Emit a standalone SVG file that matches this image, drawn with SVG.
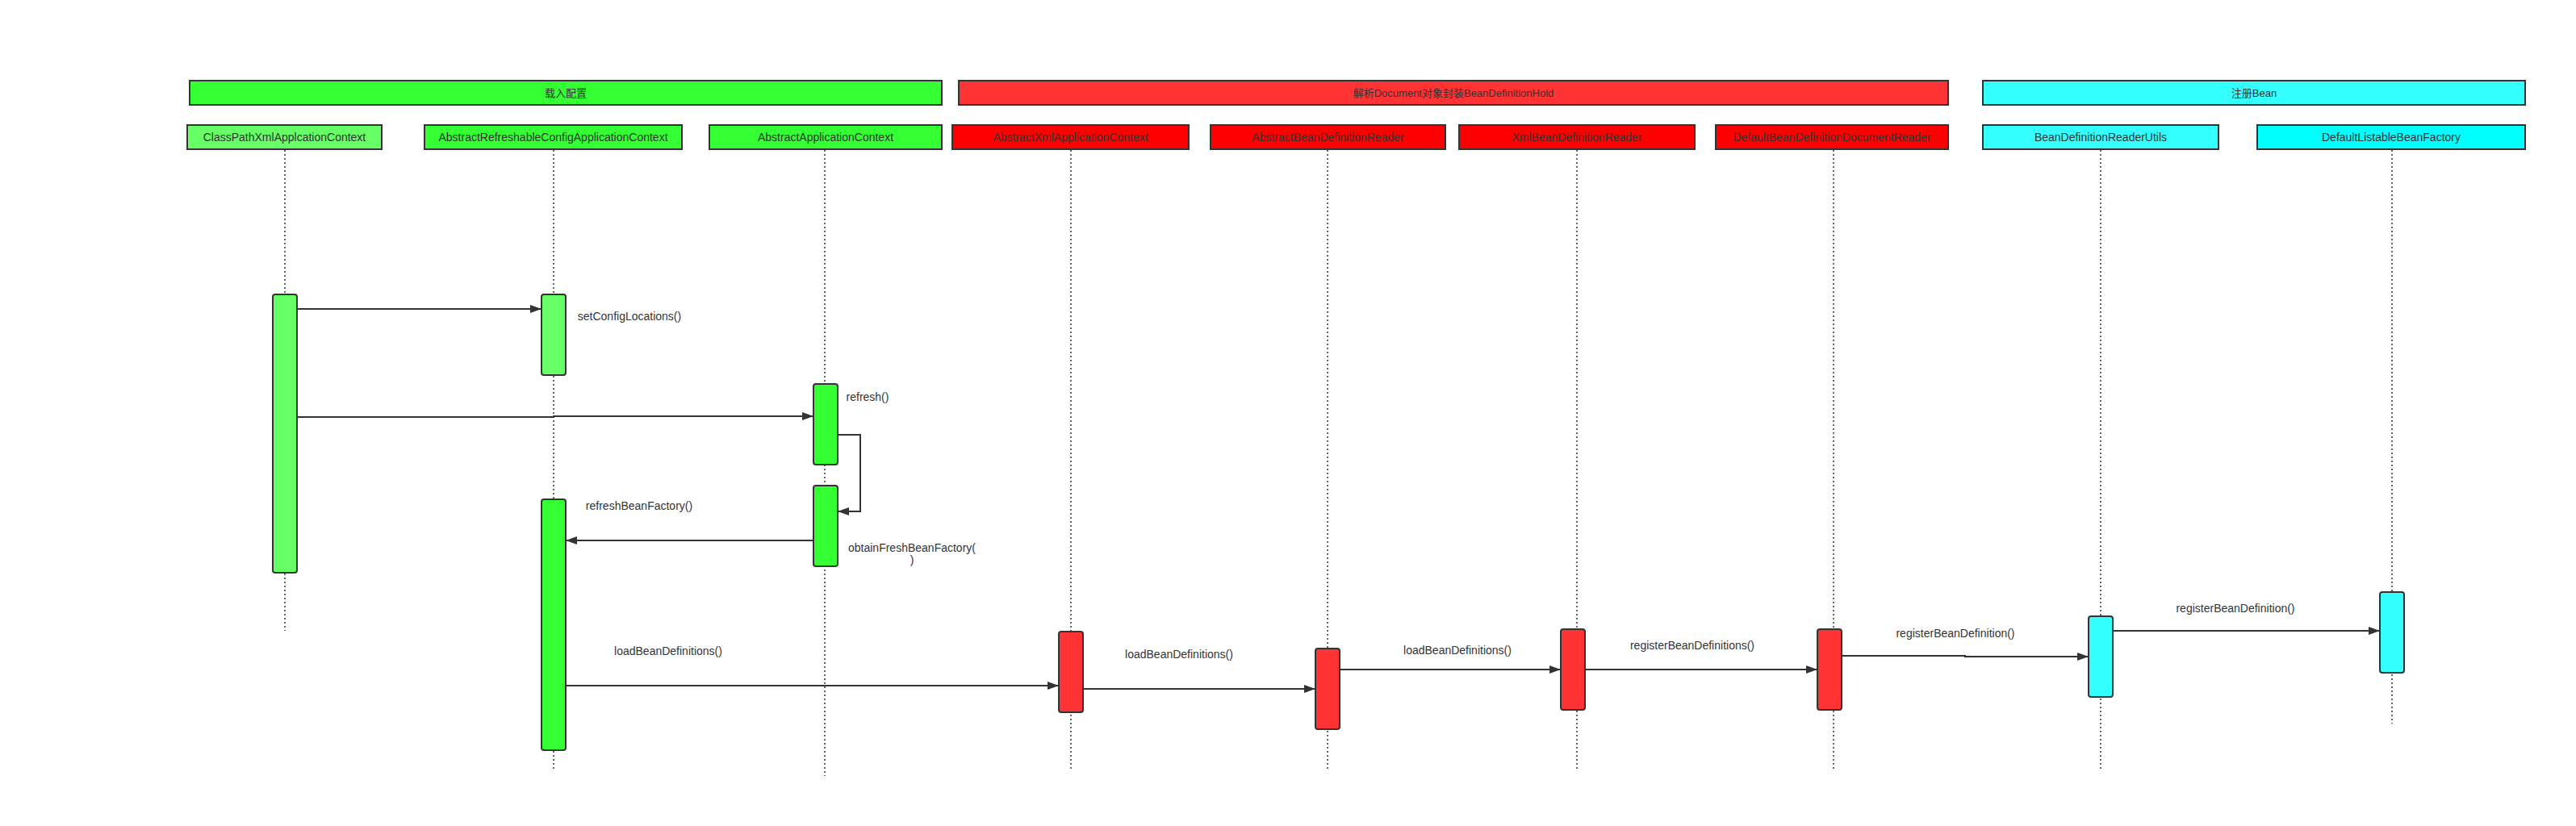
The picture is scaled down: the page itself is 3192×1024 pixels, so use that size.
<svg xmlns="http://www.w3.org/2000/svg" width="3192" height="1024" viewBox="0 0 3192 1024">
<style>
text{font-family:"Liberation Sans","Noto Sans CJK SC",sans-serif;fill:#333;}
.hdr{font-size:13px;text-anchor:middle;}
.pt{font-size:14px;text-anchor:middle;}
.lbl{font-size:14px;text-anchor:middle;}
.box{stroke:#333;stroke-width:2;}
.act{stroke:#333;stroke-width:2;}
.life{stroke:#333;stroke-width:1.5;stroke-dasharray:2 3;fill:none;}
.msg{stroke:#333;stroke-width:2;fill:none;marker-end:url(#arr);}
.g1{fill:#66FF66;}
.g2{fill:#33FF33;}
.r1{fill:#FF3333;}
.r2{fill:#FF0000;}
.c1{fill:#33FFFF;}
.c2{fill:#00FFFF;}
</style>
<defs>
<marker id="arr" viewBox="0 0 14 10" refX="14" refY="5" markerUnits="userSpaceOnUse" markerWidth="14" markerHeight="10" orient="auto">
<path d="M0,0 L14,5 L0,10 Z" fill="#333"/>
</marker>
</defs>
<rect width="3192" height="1024" fill="#fff"/>

<g id="frame-load">
<rect class="box g2" x="235" y="100" width="932" height="30"/>
<text class="hdr" x="701" y="120">载入配置</text>
</g>
<g id="frame-parse">
<rect class="box r1" x="1188" y="100" width="1226" height="30"/>
<text class="hdr" x="1801" y="120">解析Document对象封装BeanDefinitionHold</text>
</g>
<g id="frame-register">
<rect class="box c1" x="2457" y="100" width="672" height="30"/>
<text class="hdr" x="2793" y="120">注册Bean</text>
</g>

<g id="ClassPathXmlApplcationContext">
<line class="life" x1="353" y1="186" x2="353" y2="782"/>
<rect class="box g1" x="232" y="155" width="241" height="30"/>
<text class="pt" x="352.5" y="175">ClassPathXmlApplcationContext</text>
<rect class="act g1" x="338" y="365" width="30" height="345" rx="3"/>
</g>
<g id="AbstractRefreshableConfigApplicationContext">
<line class="life" x1="686" y1="186" x2="686" y2="956"/>
<rect class="box g2" x="526" y="155" width="319" height="30"/>
<text class="pt" x="685.5" y="175">AbstractRefreshableConfigApplicationContext</text>
<rect class="act g1" x="671" y="365" width="30" height="100" rx="3"/>
<rect class="act g2" x="671" y="619" width="30" height="311" rx="3"/>
</g>
<g id="AbstractApplicationContext">
<line class="life" x1="1022" y1="186" x2="1022" y2="962"/>
<rect class="box g2" x="879" y="155" width="288" height="30"/>
<text class="pt" x="1023" y="175">AbstractApplicationContext</text>
<rect class="act g2" x="1008" y="476" width="30" height="100" rx="3"/>
<rect class="act g2" x="1008" y="602" width="30" height="100" rx="3"/>
</g>
<g id="AbstractXmlApplicationContext">
<line class="life" x1="1327" y1="186" x2="1327" y2="956"/>
<rect class="box r2" x="1180" y="155" width="293" height="30"/>
<text class="pt" x="1326.5" y="175">AbstractXmlApplicationContext</text>
<rect class="act r1" x="1312" y="783" width="30" height="100" rx="3"/>
</g>
<g id="AbstractBeanDefinitionReader">
<line class="life" x1="1645" y1="186" x2="1645" y2="956"/>
<rect class="box r2" x="1500" y="155" width="291" height="30"/>
<text class="pt" x="1645.5" y="175">AbstractBeanDefinitionReader</text>
<rect class="act r1" x="1630" y="804" width="30" height="100" rx="3"/>
</g>
<g id="XmlBeanDefinitionReader">
<line class="life" x1="1954" y1="186" x2="1954" y2="956"/>
<rect class="box r2" x="1808" y="155" width="292" height="30"/>
<text class="pt" x="1954" y="175">XmlBeanDefinitionReader</text>
<rect class="act r1" x="1934" y="780" width="30" height="100" rx="3"/>
</g>
<g id="DefaultBeanDefinitionDocumentReader">
<line class="life" x1="2272" y1="186" x2="2272" y2="956"/>
<rect class="box r2" x="2126" y="155" width="288" height="30"/>
<text class="pt" x="2270" y="175">DefaultBeanDefinitionDocumentReader</text>
<rect class="act r1" x="2252" y="780" width="30" height="100" rx="3"/>
</g>
<g id="BeanDefinitionReaderUtils">
<line class="life" x1="2603" y1="186" x2="2603" y2="956"/>
<rect class="box c1" x="2457" y="155" width="292" height="30"/>
<text class="pt" x="2603" y="175">BeanDefinitionReaderUtils</text>
<rect class="act c1" x="2588" y="764" width="30" height="100" rx="3"/>
</g>
<g id="DefaultListableBeanFactory">
<line class="life" x1="2964" y1="186" x2="2964" y2="897"/>
<rect class="box c2" x="2797" y="155" width="332" height="30"/>
<text class="pt" x="2963" y="175">DefaultListableBeanFactory</text>
<rect class="act c1" x="2949" y="734" width="30" height="100" rx="3"/>
</g>

<g id="connectors">
<path class="msg" d="M368,383 H671"/>
<path class="msg" d="M368,517 H686 V516 H1008"/>
<path class="msg" d="M1038,539 H1066 V634 H1038"/>
<path class="msg" d="M1008,670 H701"/>
<path class="msg" d="M701,850 H1312"/>
<path class="msg" d="M1342,854 H1630"/>
<path class="msg" d="M1660,830 H1934"/>
<path class="msg" d="M1964,830 H2252"/>
<path class="msg" d="M2282,813 H2435 V814 H2588"/>
<path class="msg" d="M2618,782 H2949"/>
<text class="lbl" x="780" y="397">setConfigLocations()</text>
<text class="lbl" x="1075" y="497">refresh()</text>
<text class="lbl" x="792" y="632">refreshBeanFactory()</text>
<text class="lbl" x="1130" y="684">obtainFreshBeanFactory(</text>
<text class="lbl" x="1130" y="699">)</text>
<text class="lbl" x="828" y="812">loadBeanDefinitions()</text>
<text class="lbl" x="1461" y="816">loadBeanDefinitions()</text>
<text class="lbl" x="1806" y="811">loadBeanDefinitions()</text>
<text class="lbl" x="2097" y="805">registerBeanDefinitions()</text>
<text class="lbl" x="2423" y="790">registerBeanDefinition()</text>
<text class="lbl" x="2770" y="759">registerBeanDefinition()</text>
</g>
</svg>
